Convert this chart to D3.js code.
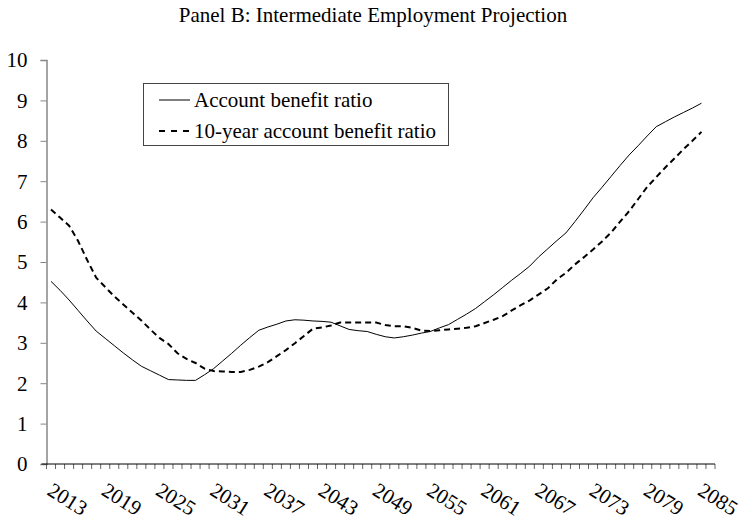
<!DOCTYPE html>
<html>
<head>
<meta charset="utf-8">
<script src="https://cdn.jsdelivr.net/npm/d3@7"></script>
<style>
  body { margin: 0; background: #fff; }
  text { font-family: "Liberation Serif", "Times New Roman", serif; fill: #000; }
</style>
</head>
<body>
<svg width="744" height="521"></svg>
<script>
// years on the category axis (one empty slot after 2085, as in the original)
var years = d3.range(2013, 2087);
var labelYears = d3.range(2013, 2086, 6);
var yTicks = d3.range(0, 11);

// account benefit ratio, 2013-2085
var accountRatio = [4.52, 4.30, 4.06, 3.80, 3.54, 3.29, 3.11, 2.93, 2.75, 2.58,
  2.42, 2.31, 2.20, 2.09, 2.08, 2.07, 2.07, 2.21, 2.36, 2.55,
  2.74, 2.94, 3.13, 3.31, 3.39, 3.46, 3.54, 3.57, 3.56, 3.54,
  3.53, 3.51, 3.42, 3.33, 3.30, 3.28, 3.21, 3.15, 3.12, 3.15,
  3.19, 3.24, 3.28, 3.37, 3.45, 3.58, 3.71, 3.85, 4.02, 4.19,
  4.37, 4.55, 4.72, 4.90, 5.13, 5.33, 5.53, 5.72, 6.00, 6.29,
  6.59, 6.85, 7.12, 7.39, 7.65, 7.88, 8.12, 8.35, 8.47, 8.59,
  8.70, 8.81, 8.93];

// 10-year account benefit ratio, 2013-2085
var tenYearRatio = [6.30, 6.10, 5.90, 5.52, 5.05, 4.61, 4.38, 4.15, 3.95, 3.75,
  3.55, 3.33, 3.12, 2.97, 2.74, 2.60, 2.50, 2.36, 2.30, 2.29,
  2.28, 2.28, 2.33, 2.41, 2.52, 2.67, 2.82, 2.99, 3.17, 3.35,
  3.38, 3.43, 3.50, 3.50, 3.50, 3.50, 3.50, 3.44, 3.41, 3.41,
  3.37, 3.30, 3.29, 3.31, 3.33, 3.35, 3.37, 3.41, 3.49, 3.57,
  3.66, 3.80, 3.93, 4.05, 4.20, 4.35, 4.57, 4.73, 4.94, 5.12,
  5.31, 5.51, 5.73, 6.00, 6.26, 6.56, 6.86, 7.10, 7.34, 7.56,
  7.79, 8.00, 8.22];

var seriesNames = ["Account benefit ratio", "10-year account benefit ratio"];

var svg = d3.select("svg");

var x = d3.scaleBand()
  .domain(years)
  .range([46.5, 715])
  .padding(0);

var y = d3.scaleLinear()
  .domain([0, 10])
  .range([464, 60]);

// title
svg.append("text")
  .attr("x", 373)
  .attr("y", 22)
  .attr("text-anchor", "middle")
  .style("font-size", "21px")
  .text("Panel B: Intermediate Employment Projection");

// y axis
var yAxis = svg.append("g")
  .attr("transform", "translate(46.5,0)")
  .call(d3.axisLeft(y).tickValues(yTicks).tickSize(6).tickPadding(13));
yAxis.select(".domain").attr("stroke", "#868686").attr("stroke-width", 1.5);
yAxis.selectAll(".tick line").attr("stroke", "#868686");
yAxis.selectAll(".tick text")
  .style("font-size", "21px")
  .style("font-family", "'Liberation Serif', serif")
  .attr("dy", "0.33em");

// x axis: line plus a tick at each category boundary
var xg = svg.append("g");
var bounds = years.map(function(d) { return x(d); }).concat([x.range()[1]]);
xg.selectAll("line.tk")
  .data(bounds)
  .enter().append("line")
  .attr("class", "tk")
  .attr("x1", function(d) { return d; })
  .attr("x2", function(d) { return d; })
  .attr("y1", y(0))
  .attr("y2", y(0) + 5)
  .attr("stroke", "#666")
  .attr("stroke-width", 1);
xg.append("line")
  .attr("x1", x.range()[0] - 5)
  .attr("x2", x.range()[1])
  .attr("y1", y(0))
  .attr("y2", y(0))
  .attr("stroke", "#000")
  .attr("stroke-width", 1);

xg.selectAll("text.lab")
  .data(labelYears)
  .enter().append("text")
  .attr("class", "lab")
  .attr("transform", function(d) {
    return "translate(" + (x(d) + x.bandwidth() / 2 - 5) + ",494) rotate(32)";
  })
  .style("font-size", "21px")
  .text(function(d) { return d; });

// lines
var line = d3.line()
  .x(function(d, i) { return x(years[i]) + x.bandwidth() / 2; })
  .y(function(d) { return y(d); });

svg.append("path")
  .datum(accountRatio)
  .attr("fill", "none")
  .attr("stroke", "#000")
  .attr("stroke-width", 1)
  .attr("d", line);

svg.append("path")
  .datum(tenYearRatio)
  .attr("fill", "none")
  .attr("stroke", "#000")
  .attr("stroke-width", 2)
  .attr("stroke-dasharray", "6,4")
  .attr("d", line);

// legend
var legend = svg.append("g");
legend.append("rect")
  .attr("x", 143.5)
  .attr("y", 83.5)
  .attr("width", 305)
  .attr("height", 62)
  .attr("fill", "#fff")
  .attr("stroke", "#444")
  .attr("stroke-width", 1);

var rows = legend.selectAll("g.row")
  .data(seriesNames)
  .enter().append("g")
  .attr("class", "row")
  .attr("transform", function(d, i) { return "translate(0," + (i * 31) + ")"; });

rows.append("line")
  .attr("x1", 159)
  .attr("x2", 190)
  .attr("y1", 100)
  .attr("y2", 100)
  .attr("stroke", "#000")
  .attr("stroke-width", function(d, i) { return i ? 2 : 1; })
  .attr("stroke-dasharray", function(d, i) { return i ? "6,6" : null; });

rows.append("text")
  .attr("x", 194)
  .attr("y", 107)
  .style("font-size", "21px")
  .text(function(d) { return d; });
</script>
</body>
</html>
